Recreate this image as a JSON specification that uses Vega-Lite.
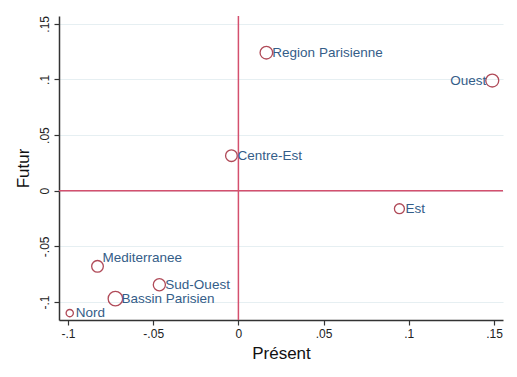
{
  "$schema": "https://vega.github.io/schema/vega-lite/v6.json",
  "width": 444,
  "height": 304,
  "autosize": {"type": "none"},
  "padding": {"left": 59, "top": 16, "right": 14, "bottom": 57},
  "background": "white",
  "config": {
    "view": {"stroke": null},
    "font": "Liberation Sans"
  },
  "data": {
    "values": [
      {"region": "Region Parisienne", "present": 0.0164, "futur": 0.124, "poids": 15},
      {"region": "Ouest", "present": 0.149, "futur": 0.099, "poids": 16},
      {"region": "Centre-Est", "present": -0.0041, "futur": 0.0315, "poids": 13},
      {"region": "Est", "present": 0.0945, "futur": -0.0162, "poids": 9.5},
      {"region": "Mediterranee", "present": -0.0827, "futur": -0.068, "poids": 13},
      {"region": "Sud-Ouest", "present": -0.0464, "futur": -0.0845, "poids": 14},
      {"region": "Bassin Parisien", "present": -0.0722, "futur": -0.097, "poids": 20},
      {"region": "Nord", "present": -0.099, "futur": -0.110, "poids": 5}
    ]
  },
  "encoding": {
    "x": {
      "field": "present", "type": "quantitative",
      "scale": {"domain": [-0.1053, 0.1553], "nice": false, "zero": false},
      "axis": {
        "title": "Présent", "values": [-0.1, -0.05, 0, 0.05, 0.1, 0.15],
        "labelExpr": "datum.value == 0 ? '0' : (datum.value < 0 ? '-' : '') + slice(format(abs(datum.value), '.2~f'), 1)",
        "grid": false, "domainColor": "#333333", "domainWidth": 1.5,
        "tickColor": "#333333", "tickWidth": 1.2, "tickSize": 5,
        "labelFontSize": 12, "labelColor": "#222222", "labelPadding": 3,
        "titleFontSize": 17, "titleFontWeight": "normal", "titleColor": "#111111", "titlePadding": 6
      }
    },
    "y": {
      "field": "futur", "type": "quantitative",
      "scale": {"domain": [-0.1162, 0.157], "nice": false, "zero": false},
      "axis": {
        "title": "Futur", "values": [-0.1, -0.05, 0, 0.05, 0.1, 0.15],
        "labelExpr": "datum.value == 0 ? '0' : (datum.value < 0 ? '-' : '') + slice(format(abs(datum.value), '.2~f'), 1)",
        "labelAngle": 270, "labelAlign": "center", "labelBaseline": "bottom",
        "grid": true, "gridColor": "#e6eff2", "gridWidth": 1.2,
        "domainColor": "#333333", "domainWidth": 1.5,
        "tickColor": "#333333", "tickWidth": 1.2, "tickSize": 5,
        "labelFontSize": 12, "labelColor": "#222222", "labelPadding": 3,
        "titleFontSize": 17, "titleFontWeight": "normal", "titleColor": "#111111", "titlePadding": 6
      }
    }
  },
  "layer": [
    {
      "data": {"values": [{"zero": 0}]},
      "mark": {"type": "rule", "color": "#d4506e", "strokeWidth": 1.5},
      "encoding": {"y": {"field": "zero", "type": "quantitative"}, "x": null}
    },
    {
      "data": {"values": [{"zero": 0}]},
      "mark": {"type": "rule", "color": "#d4506e", "strokeWidth": 1.5},
      "encoding": {"x": {"field": "zero", "type": "quantitative"}, "y": null}
    },
    {
      "mark": {"type": "point", "shape": "circle", "filled": false, "stroke": "#b04a58", "strokeWidth": 1.3, "opacity": 1},
      "encoding": {
        "size": {"field": "poids", "type": "quantitative", "scale": {"domain": [0, 20], "range": [0, 210]}, "legend": null}
      }
    },
    {
      "transform": [{"filter": "datum.region != 'Ouest' && datum.region != 'Mediterranee'"}],
      "mark": {"type": "text", "align": "left", "baseline": "middle", "dx": 6, "fontSize": 13.5, "color": "#345d88"},
      "encoding": {"text": {"field": "region"}}
    },
    {
      "transform": [{"filter": "datum.region == 'Mediterranee'"}],
      "mark": {"type": "text", "align": "left", "baseline": "middle", "dx": 5, "dy": -8, "fontSize": 13.5, "color": "#345d88"},
      "encoding": {"text": {"field": "region"}}
    },
    {
      "transform": [{"filter": "datum.region == 'Ouest'"}],
      "mark": {"type": "text", "align": "right", "baseline": "middle", "dx": -6, "fontSize": 13.5, "color": "#345d88"},
      "encoding": {"text": {"field": "region"}}
    }
  ]
}
